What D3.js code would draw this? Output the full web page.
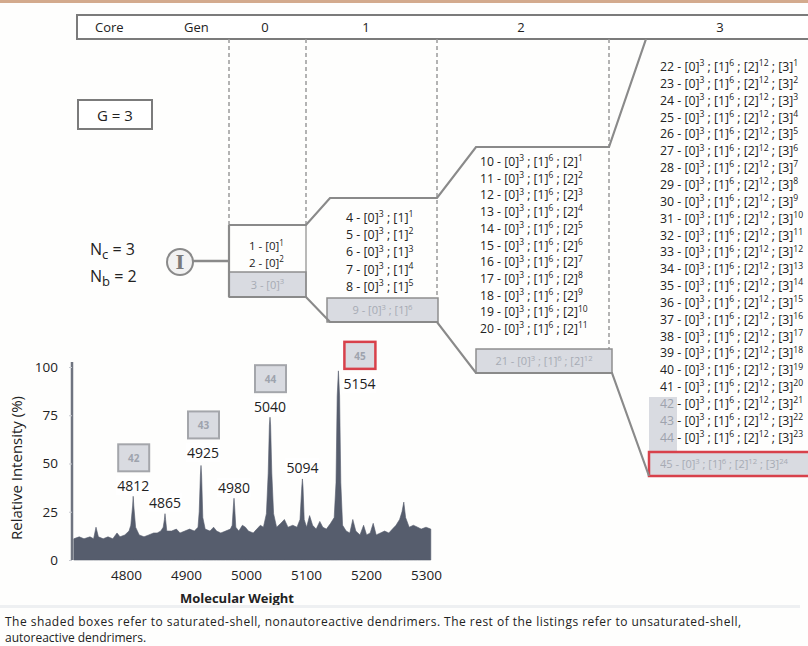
<!DOCTYPE html>
<html><head><meta charset="utf-8">
<script src="https://cdn.jsdelivr.net/npm/d3@7/dist/d3.min.js"></script>
<style>
html,body{margin:0;padding:0;background:#fff;}
svg{display:block;font-family:"Open Sans","Noto Sans",sans-serif;}
</style></head>
<body>
<script>
// ---------- DATA ----------
const headerLabels = ["Core","Gen","0","1","2","3"];
const headerX = [95,184,265,366,521,720];
const generations = [0,1,2,3];
const genUnsatCounts = [2,5,11,23];     // unsaturated listings per generation
const genSatIds = [3,9,21,45];          // saturated-shell (shaded) ids
const genBranching = [3,6,12,24];       // exponents of full shells
const shadedLateIds = [42,43,44];       // gen 3 listings drawn with shaded ids
const peakMW   = [4812,4865,4925,4980,5040,5094,5154];
const peakInt  = [33,24,49,32,74,42,98];
const peakBoxIds = {4812:"42",4925:"43",5040:"44",5154:"45"};
const yTicks = [0,25,50,75,100];
const xTicks = [4800,4900,5000,5100,5200,5300];
// spectrum trace [molecular weight, relative intensity %]
const spectrum = [
[4713,1],[4713,11],[4722,12],[4730,11],[4740,12],[4746,11],[4750,17],[4754,12],[4762,11],[4770,12],
[4778,11],[4785,14],[4790,12],[4798,13],[4805,15],[4808,18],[4811,28],[4812,33],[4813,28],[4816,17],[4822,13],[4830,12],
[4838,13],[4846,14],[4852,14],[4858,15],[4862,17],[4864,21],[4865,24],[4866,21],[4868,15],[4876,15],[4884,16],[4890,14],
[4898,15],[4906,16],[4914,15],[4920,17],[4922,25],[4924,44],[4925,49],[4926,44],[4928,22],[4932,16],[4940,15],[4946,17],
[4951,15],[4958,14],[4966,15],[4974,16],[4977,18],[4979,28],[4980,32],[4981,28],[4983,17],[4988,15],[4994,18],[4999,17],
[5004,15],[5012,14],[5018,16],[5024,18],[5029,17],[5034,24],[5037,45],[5039,70],[5040,74],[5041,70],[5043,45],[5046,24],
[5051,17],[5058,19],[5064,21],[5070,17],[5078,18],[5085,17],[5090,21],[5093,38],[5094,42],[5095,38],[5097,21],[5101,17],
[5106,23],[5111,18],[5117,16],[5123,20],[5128,17],[5134,16],[5141,19],[5147,22],[5150,40],[5152,85],[5154,98],
[5156,85],[5158,40],[5161,18],[5167,15],[5173,14],[5178,21],[5183,15],[5190,13],[5196,18],[5201,13],[5207,14],
[5212,19],[5217,13],[5224,14],[5231,15],[5238,14],[5244,16],[5250,18],[5256,21],[5260,25],[5263,30],
[5266,22],[5272,17],[5279,18],[5286,17],[5292,16],[5300,17],[5308,16],[5308,1]
];
const captionLines = [
 "The shaded boxes refer to saturated-shell, nonautoreactive dendrimers. The rest of the listings refer to unsaturated-shell,",
 "autoreactive dendrimers."
];

// ---------- SETUP ----------
const W=808,H=646;
const svg=d3.select("body").append("svg").attr("width",W).attr("height",H);
svg.append("rect").attr("width",W).attr("height",H).attr("fill","#fefefd");
svg.append("rect").attr("width",W).attr("height",3).attr("fill","#d3aa8d");

const LINE="#8a8a8a", SHADE="#d9dbe1", SHADE_TXT="#9ea3ad", TXT="#222";

// rich text with ^superscripts
function rich(g, str, x, y, size, color, firstColor){
  const t=g.append("text").attr("x",x).attr("y",y).attr("font-size",size).attr("fill",color);
  const parts=str.split(/\^(\d+)/);
  let up=false, first=true;
  parts.forEach((p,i)=>{
    if(p==="") return;
    if(i%2===1){
      t.append("tspan").attr("dy",-size*0.38).attr("font-size",size*0.7).text(p);
      up=true;
    } else {
      const ts=t.append("tspan").attr("dy",up?size*0.38:0).text(p);
      up=false;
      if(first && firstColor){
        const m=p.match(/^(\d+)(.*)$/);
        if(m){ ts.text(m[1]).attr("fill",firstColor); t.append("tspan").text(m[2]); }
      }
      first=false;
    }
  });
  return t;
}
function listing(id, gen, k){
  const segs=[];
  for(let j=0;j<gen;j++) segs.push("["+j+"]^"+genBranching[j]);
  segs.push("["+gen+"]^"+k);
  return id+" - "+segs.join(" ; ");
}

// ---------- HEADER ----------
svg.append("rect").attr("x",77).attr("y",15).attr("width",760).attr("height",24)
  .attr("fill","#fff").attr("stroke","#7b7b7b").attr("stroke-width",2);
svg.selectAll(".hl").data(headerLabels).enter().append("text")
  .attr("x",(d,i)=>headerX[i]).attr("y",32).attr("font-size",13).attr("fill",TXT)
  .attr("text-anchor",(d,i)=>i<2?"start":"middle").text(d=>d);

// G = 3 box
svg.append("rect").attr("x",78).attr("y",100).attr("width",74).attr("height",29)
  .attr("fill","#fff").attr("stroke","#7b7b7b").attr("stroke-width",2);
svg.append("text").attr("x",115).attr("y",121).attr("text-anchor","middle")
  .attr("font-size",15).attr("fill",TXT).text("G = 3");

// Nc, Nb
[["c","3",255],["b","2",282]].forEach(([sub,v,y])=>{
  const t=svg.append("text").attr("x",90).attr("y",y).attr("font-size",16).attr("fill",TXT);
  t.append("tspan").text("N");
  t.append("tspan").attr("dy",4).attr("font-size",13).text(sub);
  t.append("tspan").attr("dy",-4).text(" = "+v);
});

// core circle
svg.append("line").attr("x1",193).attr("x2",229).attr("y1",261).attr("y2",261)
  .attr("stroke",LINE).attr("stroke-width",2.5);
svg.append("circle").attr("cx",180).attr("cy",262).attr("r",13)
  .attr("fill","#f2f2f2").attr("stroke",LINE).attr("stroke-width",2);
svg.append("text").attr("x",180).attr("y",269).attr("text-anchor","middle")
  .attr("font-family","DejaVu Serif, serif").attr("font-weight","bold").attr("font-size",19)
  .attr("fill","#7a7a7a").text("I");

// ---------- GENERATION DIAGRAM ----------
const dashes=[[229,39,225],[306,39,225],[437,39,297],[609,39,349]];
svg.selectAll(".dash").data(dashes).enter().append("line")
  .attr("x1",d=>d[0]).attr("x2",d=>d[0]).attr("y1",d=>d[1]).attr("y2",d=>d[2])
  .attr("stroke","#9a9a9a").attr("stroke-width",1.5).attr("stroke-dasharray","4,3");

const listGeo=[
  {x:249,y0:250,step:16.5,fs:11.5},
  {x:346,y0:222,step:17.2,fs:12.4},
  {x:480,y0:166,step:16.7,fs:12.2},
  {x:660,y0:71,step:16.85,fs:12.3}
];
const satBox=[
  {x:229,y:272,w:77,h:25},
  {x:327,y:298,w:111,h:24},
  {x:476,y:349,w:136,h:24},
  {x:649,y:452,w:175,h:24}
];
svg.append("rect").attr("x",649).attr("y",397).attr("width",28).attr("height",55)
  .attr("fill",SHADE);

let id=1;
generations.forEach(g=>{
  const geo=listGeo[g];
  const grp=svg.append("g");
  for(let k=1;k<=genUnsatCounts[g];k++){
    const shadedId = shadedLateIds.includes(id);
    rich(grp, listing(id,g,k), geo.x, geo.y0+(k-1)*geo.step, geo.fs, TXT, shadedId?SHADE_TXT:null);
    id++;
  }
  const b=satBox[g];
  svg.append("rect").attr("x",b.x).attr("y",b.y).attr("width",b.w).attr("height",b.h)
    .attr("fill",SHADE).attr("stroke",g===3?"#d8414b":"#8e8e8e").attr("stroke-width",g===3?2.5:1.5);
  const tg=svg.append("g").attr("opacity",0.85);
  const sat=listing(genSatIds[g],g,genBranching[g]);
  const t=rich(tg, sat, 0, b.y+b.h/2+4, 11, SHADE_TXT);
  const bw=t.node().getComputedTextLength();
  t.attr("x", g===3 ? 660 : b.x+(b.w-bw)/2);
  id++;
});

const upper=[[229,225],[306,225],[330,198],[437,198],[476,147],[609,147],[646,39]];
const lower=[[229,297],[306,297],[330,322],[437,322],[476,373],[612,373],[649,476]];
const ln=d3.line();
[upper,lower].forEach(p=>svg.append("path").attr("d",ln(p)).attr("fill","none")
  .attr("stroke",LINE).attr("stroke-width",2.2));
svg.append("line").attr("x1",229).attr("x2",229).attr("y1",225).attr("y2",297)
  .attr("stroke",LINE).attr("stroke-width",2.2);
svg.append("line").attr("x1",306).attr("x2",306).attr("y1",225).attr("y2",297)
  .attr("stroke",LINE).attr("stroke-width",1.2);

// ---------- SPECTRUM ----------
const x=d3.scaleLinear().domain([4800,5300]).range([126,426]);
const y=d3.scaleLinear().domain([0,100]).range([560,367]);

const area=d3.area().x(d=>x(d[0])).y0(y(0)).y1(d=>y(d[1]));
svg.append("path").datum(spectrum).attr("d",area).attr("fill","#565d6d")
  .attr("stroke","#565d6d").attr("stroke-width",0.6).attr("stroke-linejoin","round");

const yAx=svg.append("g").attr("transform","translate(72,0)")
  .call(d3.axisLeft(y).tickValues(yTicks).tickSize(3).tickPadding(11));
yAx.select(".domain").attr("stroke","#6f7480").attr("stroke-width",2.5).attr("d","M0,362V560");
yAx.selectAll(".tick line").attr("stroke","#c8cad0");
yAx.selectAll("text").attr("font-size",13.5).attr("fill",TXT).attr("font-family","Open Sans");

const xAx=svg.append("g").attr("transform","translate(0,560)")
  .call(d3.axisBottom(x).tickValues(xTicks).tickSize(0).tickPadding(10).tickFormat(d3.format("d")));
xAx.select(".domain").remove();
xAx.selectAll("text").attr("font-size",13.5).attr("fill",TXT).attr("font-family","Open Sans");

svg.append("text").attr("transform","translate(22,468) rotate(-90)").attr("text-anchor","middle")
  .attr("font-size",15).attr("fill",TXT).text("Relative Intensity (%)");
svg.append("text").attr("x",237).attr("y",603).attr("text-anchor","middle")
  .attr("font-size",13).attr("font-weight","bold").attr("fill",TXT).text("Molecular Weight");

// peak labels: [dx, dy of label centre relative to peak top]
const labelOffset={4812:[0,-10],4865:[0,-11],4925:[2,-12],4980:[0,-10],5040:[0,-10],5094:[0,-11],5154:[21,13]};
peakMW.forEach((m,i)=>{
  const [dx,dy]=labelOffset[m];
  const lx=x(m)+dx, cy=y(peakInt[i])+dy;
  const g=svg.append("g");
  const t=g.append("text").attr("x",lx).attr("y",cy).attr("dy","0.35em").attr("text-anchor","middle")
    .attr("font-size",14).attr("fill",TXT).text(m);
  const bb=t.node().getBBox();
  g.insert("rect","text").attr("x",bb.x-1).attr("y",bb.y).attr("width",bb.width+2).attr("height",bb.height)
    .attr("fill","#fff");
  if(peakBoxIds[m]){
    const red=m===5154;
    const bx=lx-15, by=cy-42;
    g.append("rect").attr("x",bx).attr("y",by).attr("width",31).attr("height",27)
      .attr("fill",SHADE).attr("stroke",red?"#d8414b":"#a4a6ab").attr("stroke-width",red?2.5:2);
    g.append("text").attr("x",bx+15.5).attr("y",by+18).attr("text-anchor","middle")
      .attr("font-size",10).attr("font-weight","bold").attr("fill",SHADE_TXT).text(peakBoxIds[m]);
  }
});

// scan band & caption
svg.append("rect").attr("x",0).attr("y",605).attr("width",800).attr("height",3).attr("fill","#eef0f2");
captionLines.forEach((c,i)=>{
  const t=svg.append("text").attr("x",5).attr("y",626+i*16)
    .attr("font-size",12).attr("fill",TXT).text(c);
  if(i===0){
    t.attr("textLength",736).attr("lengthAdjust","spacing");
  }
});
</script>
</body></html>
